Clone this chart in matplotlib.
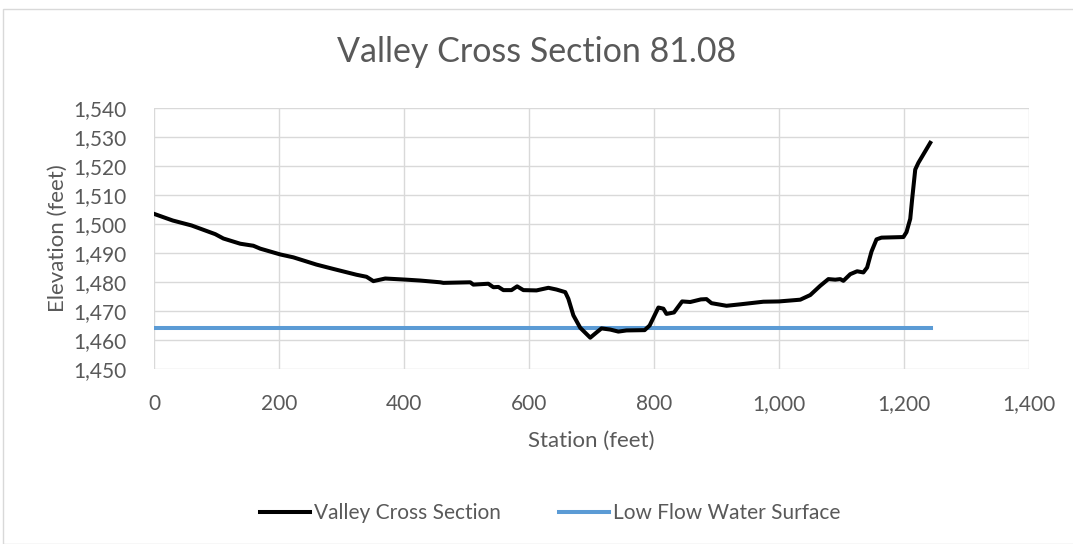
import matplotlib
matplotlib.use("Agg")
from matplotlib import pyplot as plt
from matplotlib.patches import Rectangle
from matplotlib.ticker import FuncFormatter, MultipleLocator

plt.rcParams['font.family'] = ['Lato', 'DejaVu Sans']

# surveyed ground profile (station ft, elevation ft)
station = [0, 30, 60, 98, 111, 138, 159, 170, 202, 223, 260, 287, 324, 340,
           351, 370, 404, 426, 458, 463, 506, 511, 535, 543, 551, 559, 572,
           581, 591, 612, 631, 644, 658, 663, 671, 682, 698, 708, 716, 730,
           743, 756, 785, 793, 807, 815, 820, 832, 845, 858, 875, 884, 892,
           916, 938, 975, 1000, 1034, 1050, 1066, 1079, 1090, 1098, 1103,
           1114, 1125, 1135, 1141, 1148, 1156, 1164, 1199, 1204, 1210, 1213,
           1218, 1223, 1242]
elevation = [1503.5, 1501.2, 1499.5, 1496.5, 1495.0, 1493.2, 1492.5, 1491.5,
             1489.5, 1488.5, 1486.0, 1484.5, 1482.5, 1481.8, 1480.3, 1481.2,
             1480.8, 1480.5, 1479.9, 1479.7, 1479.9, 1479.1, 1479.4, 1478.2,
             1478.3, 1477.2, 1477.2, 1478.5, 1477.2, 1477.1, 1478.0, 1477.4,
             1476.5, 1474.2, 1468.5, 1464.2, 1460.8, 1462.6, 1464.0, 1463.6,
             1462.9, 1463.3, 1463.4, 1465.0, 1471.2, 1470.8, 1469.0, 1469.5,
             1473.3, 1473.1, 1474.0, 1474.1, 1472.7, 1471.8, 1472.3, 1473.2,
             1473.3, 1473.9, 1475.5, 1478.7, 1481.0, 1480.8, 1481.0, 1480.4,
             1482.7, 1483.7, 1483.3, 1485.0, 1490.5, 1494.7, 1495.3, 1495.5,
             1497.2, 1501.8, 1508.5, 1518.8, 1521.1, 1528.0]

# low flow water surface
ws_station = [0, 1243]
ws_elev = [1464.1, 1464.1]

fig = plt.figure(figsize=(10.73, 5.44), dpi=100)
ax = fig.add_axes([154 / 1073, 1 - 369 / 544, 875 / 1073, 261 / 544])

ax.plot(station, elevation, color='black', lw=2.9, label='Valley Cross Section',
        solid_joinstyle='round', zorder=3)
ax.plot(ws_station, ws_elev, color='#5B9BD5', lw=2.9, label='Low Flow Water Surface',
        zorder=2)

ax.set_xlim(0, 1400)
ax.set_ylim(1450, 1540)
ax.xaxis.set_major_locator(MultipleLocator(200))
ax.yaxis.set_major_locator(MultipleLocator(10))
fmt = FuncFormatter(lambda v, p: f'{v:,.0f}')
ax.xaxis.set_major_formatter(fmt)
ax.yaxis.set_major_formatter(fmt)

ax.grid(True, color='#d9d9d9', lw=1.0)
ax.set_axisbelow(True)
for s in ax.spines.values():
    s.set_visible(False)
ax.tick_params(length=0, labelsize=15, colors='#595959')
ax.tick_params(axis='x', pad=18)
ax.tick_params(axis='y', pad=20)

ax.set_xlabel('Station (feet)', fontsize=16, color='#595959', labelpad=12)
ax.set_ylabel('Elevation (feet)', fontsize=16, color='#595959', labelpad=4)
fig.suptitle('Valley Cross Section 81.08', y=1 - 52 / 544, va='center',
             fontsize=24.5, color='#595959')

fig.legend(loc='center', bbox_to_anchor=(550 / 1073, 1 - 513 / 544), ncol=2,
           frameon=False, fontsize=15, labelcolor='#595959', handlelength=2.4,
           handletextpad=0.2, columnspacing=2.8)

fig.patches.append(Rectangle((3 / 1073, 0), 1.0, 1 - 9 / 544, transform=fig.transFigure,
                             fill=False, edgecolor='#d9d9d9', lw=1.0))

fig.savefig('out.png', dpi=100)
